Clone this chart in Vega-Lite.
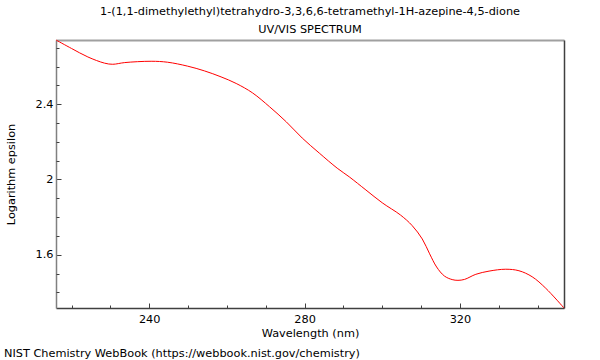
{
  "$schema": "https://vega.github.io/schema/vega-lite/v6.json",
  "padding": {"left": 4, "top": 5, "right": 5, "bottom": 2},
  "background": "white",
  "config": {
    "font": "DejaVu Sans",
    "view": {"stroke": null},
    "axis": {"grid": false, "labelFontSize": 11.3, "titleFontSize": 11.3, "titleFontWeight": "normal", "labelColor": "#000", "titleColor": "#000"}
  },
  "title": {
    "text": "NIST Chemistry WebBook (https://webbook.nist.gov/chemistry)",
    "orient": "bottom", "anchor": "start", "fontSize": 11.3, "fontWeight": "normal", "color": "#000", "offset": 9, "dx": -1
  },
  "vconcat": [
    {
      "title": {
        "text": ["1-(1,1-dimethylethyl)tetrahydro-3,3,6,6-tetramethyl-1H-azepine-4,5-dione", "UV/VIS SPECTRUM"],
        "anchor": "middle", "fontSize": 11.3, "fontWeight": "normal", "color": "#000", "lineHeight": 18, "offset": 3
      },
      "width": 508,
      "height": 268,
      "data": {
        "values": [
          {"w": 216.0, "v": 2.741},
          {"w": 220.0, "v": 2.696},
          {"w": 224.2, "v": 2.651},
          {"w": 228.5, "v": 2.618},
          {"w": 230.6, "v": 2.612},
          {"w": 233.7, "v": 2.621},
          {"w": 240.5, "v": 2.628},
          {"w": 244.7, "v": 2.623},
          {"w": 249.9, "v": 2.602},
          {"w": 254.2, "v": 2.577},
          {"w": 258.5, "v": 2.545},
          {"w": 262.4, "v": 2.510},
          {"w": 266.6, "v": 2.460},
          {"w": 271.0, "v": 2.386},
          {"w": 275.3, "v": 2.306},
          {"w": 279.4, "v": 2.220},
          {"w": 283.8, "v": 2.140},
          {"w": 288.4, "v": 2.060},
          {"w": 291.5, "v": 2.014},
          {"w": 295.8, "v": 1.944},
          {"w": 300.0, "v": 1.876},
          {"w": 304.7, "v": 1.811},
          {"w": 307.7, "v": 1.755},
          {"w": 310.3, "v": 1.684},
          {"w": 312.2, "v": 1.605},
          {"w": 314.0, "v": 1.535},
          {"w": 316.0, "v": 1.487},
          {"w": 318.0, "v": 1.468},
          {"w": 319.5, "v": 1.464},
          {"w": 321.2, "v": 1.469},
          {"w": 324.1, "v": 1.496},
          {"w": 327.5, "v": 1.513},
          {"w": 331.8, "v": 1.523},
          {"w": 335.2, "v": 1.515},
          {"w": 338.6, "v": 1.483},
          {"w": 342.1, "v": 1.422},
          {"w": 346.8, "v": 1.317}
        ]
      },
      "resolve": {"axis": {"x": "independent", "y": "independent"}},
      "layer": [
        {
          "mark": {"type": "line", "color": "#ff0000", "strokeWidth": 1, "interpolate": "catmull-rom"},
          "encoding": {
            "x": {"field": "w", "type": "quantitative", "scale": {"zero": false, "nice": false},
              "axis": {"orient": "bottom", "values": [240, 280, 320], "tickSize": -5, "tickColor": "#404040", "domainColor": "#404040", "domainWidth": 1.5, "labelPadding": 10, "title": "Wavelength (nm)", "titlePadding": 3, "format": "d"}},
            "y": {"field": "v", "type": "quantitative", "scale": {"zero": false, "nice": false},
              "axis": {"orient": "left", "values": [1.6, 2, 2.4], "tickSize": -5, "tickColor": "#404040", "domainColor": "#808080", "domainWidth": 1.5, "labelPadding": 8, "title": "Logarithm epsilon", "titlePadding": 19, "format": "~g"}}
          }
        },
        {
          "mark": {"type": "line", "opacity": 0},
          "encoding": {
            "x": {"field": "w", "type": "quantitative",
              "axis": {"orient": "bottom", "values": [220, 230, 250, 260, 270, 290, 300, 310, 330, 340], "tickSize": -3, "tickColor": "#404040", "labels": false, "domain": false, "title": null}},
            "y": {"field": "v", "type": "quantitative",
              "axis": {"orient": "left", "values": [1.4, 1.5, 1.7, 1.8, 1.9, 2.1, 2.2, 2.3, 2.5, 2.6, 2.7], "tickSize": -3, "tickColor": "#404040", "labels": false, "domain": false, "title": null}}
          }
        },
        {
          "mark": {"type": "line", "opacity": 0},
          "encoding": {
            "x": {"field": "w", "type": "quantitative",
              "axis": {"orient": "top", "ticks": false, "labels": false, "domainColor": "#a0a0a0", "domainWidth": 2, "title": null}},
            "y": {"field": "v", "type": "quantitative",
              "axis": {"orient": "right", "ticks": false, "labels": false, "domainColor": "#404040", "domainWidth": 1.5, "title": null}}
          }
        }
      ]
    }
  ]
}
